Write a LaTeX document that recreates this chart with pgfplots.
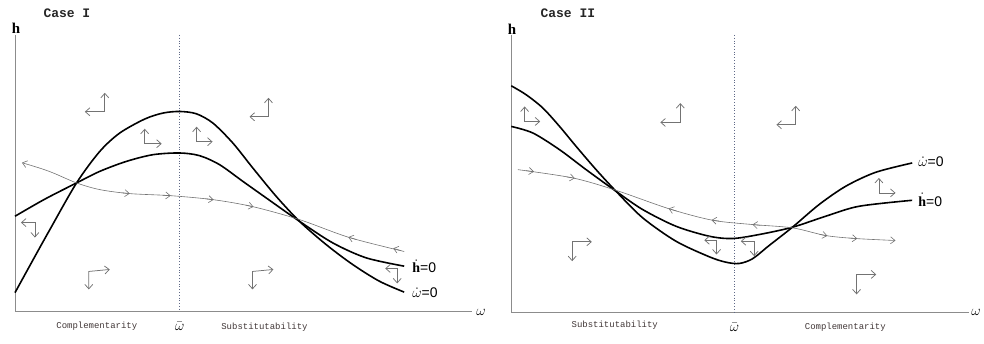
\documentclass[border=0pt]{standalone}
\usepackage{pgfplots}
\pgfplotsset{compat=1.18}
\usepackage{fontspec}
\setmainfont{Liberation Serif}
\newfontfamily\mono{Liberation Mono}
\newfontfamily\sansf{Liberation Sans}
\usetikzlibrary{arrows.meta}
\definecolor{axgray}{RGB}{140,140,140}
\definecolor{phgray}{RGB}{115,115,115}
\definecolor{dotc}{RGB}{95,105,135}
\definecolor{txt}{RGB}{65,55,55}
\newcommand{\parr}[3]{\addplot[phase] coordinates {(#1) (#2) (#3)};}
\newcommand{\tarr}[2]{\addplot[traj,-{Straight Barb[length=4.5pt,width=7pt]}] coordinates {(#1) (#2)};}
\begin{document}
\begin{tikzpicture}
\begin{axis}[
  width=984pt, height=344pt, scale only axis,
  xmin=0, xmax=984, ymin=0, ymax=344, y dir=reverse,
  hide axis, clip=false,
  phase/.style={phgray, line width=0.75pt, {Straight Barb[length=4.5pt,width=8pt]}-{Straight Barb[length=4.5pt,width=8pt]}},
  traj/.style={phgray, line width=0.6pt},
  curve/.style={black, line width=1.6pt, smooth},
]
\addplot[draw=none] coordinates {(0,0) (984,344)};
% ---------------- Panel I ----------------
\addplot[axgray, line width=0.8pt] coordinates {(15,35) (15,312) (473,312)};
\addplot[dotc, dotted, line width=0.8pt] coordinates {(180,35) (180,312)};
% omega-dot = 0
\addplot[curve] coordinates {(15,293.3) (33.3,260) (50,230) (76.7,183.3) (100,151.7) (120,133.3) (145,119.3) (163.3,113.3) (180,111.7) (196.7,114) (213.3,123.3) (233.3,143.3) (253.3,168.3) (276.7,196.7) (300,221.7) (326.7,245) (353.3,265) (380,281.7) (405,292.7)};
% h-dot = 0
\addplot[curve] coordinates {(15,216.7) (45,199.5) (76.7,183.3) (100,171.7) (126.7,161.7) (153.3,155) (180,153.3) (200,156) (220,165) (243.3,181.7) (266.7,198.3) (300,221.7) (333.3,243.3) (366.7,258.3) (405,266.7)};
% trajectory
\addplot[traj, smooth, {Straight Barb[length=4.5pt,width=7pt]}-] coordinates {(22,163) (50,172) (76.7,183.3) (100,190) (130,194) (170,196) (213,200) (253,207) (300,220) (350,238) (405,252)};
\tarr{122,193.2}{130,194}
\tarr{163,195.7}{171,196.1}
\tarr{206,199.2}{214,200.2}
\tarr{246,205.5}{254,207.2}
\tarr{357,240}{349,237.6}
\tarr{402,251.2}{394,248.8}
% phase arrows
\parr{85,112}{105,112}{105,93}
\parr{250,117}{269,117}{269,98}
\parr{145,129}{145,144}{162,144}
\parr{197,127}{197,142}{213,142}
\parr{21,223}{35,223}{35,238}
\parr{89,290}{89,272}{110,270}
\parr{253,290}{253,272}{274,270}
\parr{386,269}{398,269}{398,284}
% labels
\node[font=\mono\bfseries\fontsize{13}{13}\selectfont, text=black!85] at (67,13) {Case I};
\node[font=\bfseries\fontsize{15}{15}\selectfont] at (16,28) {h};
\node[font=\fontsize{14}{14}\selectfont] at (482,313) {$\omega$};
\node[font=\fontsize{14}{14}\selectfont] at (180,327) {$\bar{\omega}$};
\node[font=\mono\fontsize{9}{9}\selectfont, text=txt] at (97,327) {Complementarity};
\node[font=\mono\fontsize{9}{9}\selectfont, text=txt] at (265,328) {Substitutability};
\node[anchor=west, font=\fontsize{14}{14}\selectfont, inner sep=0pt] at (413,267) {$\dot{\mathbf{h}}${\sansf=0}};
\node[anchor=west, font=\fontsize{14}{14}\selectfont, inner sep=0pt] at (413,293) {$\dot{\omega}${\sansf=0}};
% ---------------- Panel II ----------------
\addplot[axgray, line width=0.8pt] coordinates {(512.3,35) (512.3,313) (971,313)};
\addplot[dotc, dotted, line width=0.8pt] coordinates {(736,35) (736,313)};
% omega-dot = 0
\addplot[curve] coordinates {(512.3,86) (527.3,95) (544,108.3) (560.7,126.7) (577.3,146.7) (597.3,170) (617.3,191.7) (644,218.3) (677.3,241.7) (710.7,257.3) (727.3,262.7) (740.7,264) (754,259.3) (770.7,246) (794,227.7) (820.7,205) (847.3,186.7) (877.3,172.7) (914,163.3)};
% h-dot = 0
\addplot[curve] coordinates {(512.3,126.7) (534,133.3) (560.7,150) (587.3,170) (617.3,191.7) (644,210) (677.3,226.7) (710.7,236.7) (734,239) (760.7,235) (794,227.7) (827.3,216.7) (860.7,206.7) (914,200.7)};
% trajectory
\addplot[traj, smooth, -{Straight Barb[length=4.5pt,width=7pt]}] coordinates {(519,170) (574,178.3) (617.3,190.7) (670.7,209.3) (714,220.7) (754,225) (794,228.3) (827.3,236) (857.3,239) (897.3,241)};
\tarr{527,171}{535,172}
\tarr{568,177.3}{576,178.6}
\tarr{678,211.5}{670,209}
\tarr{721,221.6}{713,220.5}
\tarr{762,225.8}{754,225}
\tarr{821,234.8}{829,236.3}
\tarr{851,238.5}{859,239.1}
% phase arrows
\parr{525.7,106.7}{525.7,121.7}{541.3,121.7}
\parr{661.7,122.7}{681.7,122.7}{681.7,103.3}
\parr{778,125}{797.3,125}{797.3,106}
\parr{880.7,178.3}{880.7,193.3}{897.3,193.3}
\parr{573.3,261.7}{573.3,242.3}{593,242.3}
\parr{705.7,240.7}{718,240.7}{718,255}
\parr{742.3,241.7}{755.7,241.7}{755.7,256.7}
\parr{858.3,295}{858.3,275}{878,275}
% labels
\node[font=\mono\bfseries\fontsize{13}{13}\selectfont, text=black!85] at (569,13) {Case II};
\node[font=\bfseries\fontsize{15}{15}\selectfont] at (513,29) {h};
\node[font=\fontsize{14}{14}\selectfont] at (978,313) {$\omega$};
\node[font=\fontsize{14}{14}\selectfont] at (736,328) {$\bar{\omega}$};
\node[font=\mono\fontsize{9}{9}\selectfont, text=txt] at (616,326) {Substitutability};
\node[font=\mono\fontsize{9}{9}\selectfont, text=txt] at (847,328) {Complementarity};
\node[anchor=west, font=\fontsize{14}{14}\selectfont, inner sep=0pt] at (920,162) {$\dot{\omega}${\sansf=0}};
\node[anchor=west, font=\fontsize{14}{14}\selectfont, inner sep=0pt] at (920,200) {$\dot{\mathbf{h}}${\sansf=0}};
\end{axis}
\end{tikzpicture}
\end{document}
